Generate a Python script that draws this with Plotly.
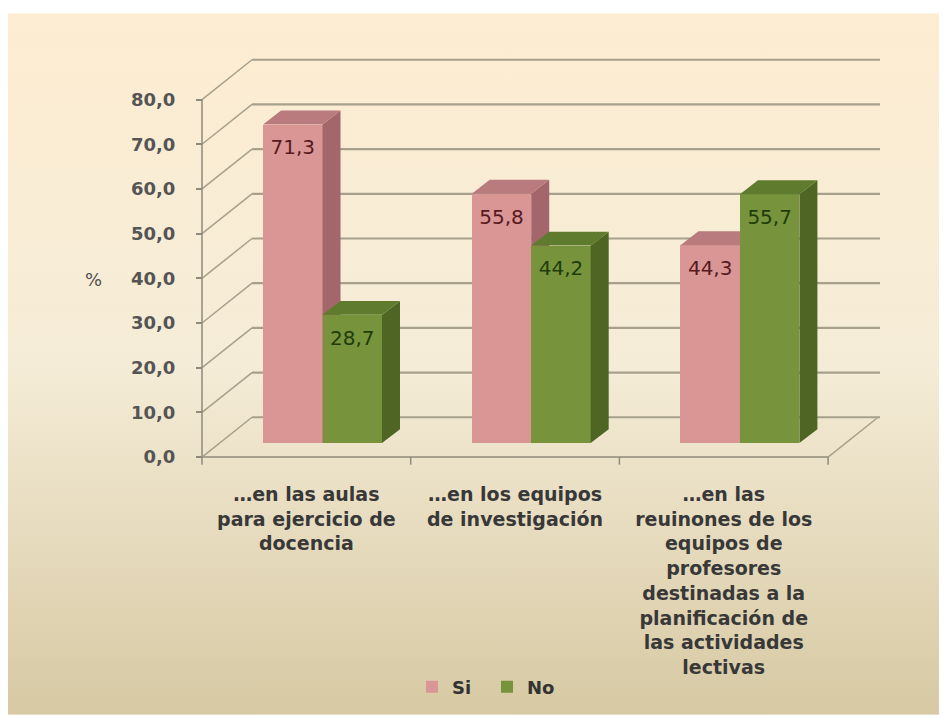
import base64
import plotly.graph_objects as go

# ---------------- data ----------------
categories = [
    "…en las aulas<br>para ejercicio de<br>docencia",
    "…en los equipos<br>de investigación",
    "…en las<br>reuinones de los<br>equipos de<br>profesores<br>destinadas a la<br>planificación de<br>las actividades<br>lectivas",
]
series_names = ["Si", "No"]
si_values = [71.3, 55.8, 44.3]
no_values = [28.7, 44.2, 55.7]
y_ticks = [0, 10, 20, 30, 40, 50, 60, 70, 80]
y_tick_labels = ["0,0", "10,0", "20,0", "30,0", "40,0", "50,0", "60,0", "70,0", "80,0"]
y_title = "%"

# ---------------- geometry (pseudo 3D) ----------------
PAGE_OFF = 8          # default body margin of the html page
FIG_W, FIG_H = 947 - PAGE_OFF, 718 - PAGE_OFF
PX_X = 208.7          # pixels per category unit
PX_Y = 4.49           # pixels per value unit
WALL_DX = 50 / PX_X   # depth of the back wall
WALL_DY = 40 / PX_Y
BAR_BASE = 14 / PX_Y  # bars sit a bit behind the front edge
BAR_DX = 18 / PX_X    # bar depth
BAR_DY = 14 / PX_Y
BAR_W = 0.285
OFFSETS = [0.435, 0.72]
LABEL_DROP = 25 / PX_Y
X_RANGE = [-12 / PX_X, (884 - 202) / PX_X]
Y_RANGE = [-9 / PX_Y, (459 - 52) / PX_Y]
GRID_END = (880 - 202) / PX_X
N_CAT = len(categories)

L = 190 - PAGE_OFF
T = 52 - PAGE_OFF
R = FIG_W - (884 - PAGE_OFF)
B = FIG_H - (468 - PAGE_OFF)
PW, PH = FIG_W - L - R, FIG_H - T - B


def px_to_paper_x(px):
    return (px - PAGE_OFF - L) / PW


def px_to_paper_y(py):
    return (FIG_H - B - (py - PAGE_OFF)) / PH


front_cols = ["#DA9694", "#77933C"]
top_cols = ["#BA7B7E", "#5F7B2D"]
side_cols = ["#A3666A", "#4E6524"]
label_cols = ["#561A1E", "#1F3D0B"]

fig = go.Figure()

all_values = [si_values, no_values]
for s, (name, vals) in enumerate(zip(series_names, all_values)):
    xa = "x" if s == 0 else "x2"
    ya = "y" if s == 0 else "y2"
    centers = [i + OFFSETS[s] for i in range(N_CAT)]
    fig.add_trace(go.Bar(
        x=centers, y=vals, base=BAR_BASE, width=BAR_W, name=name,
        marker=dict(color=front_cols[s], line=dict(width=0)),
        xaxis=xa, yaxis=ya, hoverinfo="skip",
    ))
    sx, sy, tx, ty = [], [], [], []
    for c, v in zip(centers, vals):
        xl, xr = c - BAR_W / 2, c + BAR_W / 2
        b, t = BAR_BASE, BAR_BASE + v
        sx += [xr, xr + BAR_DX, xr + BAR_DX, xr, xr, None]
        sy += [b, b + BAR_DY, t + BAR_DY, t, b, None]
        tx += [xl, xl + BAR_DX, xr + BAR_DX, xr, xl, None]
        ty += [t, t + BAR_DY, t + BAR_DY, t, t, None]
    fig.add_trace(go.Scatter(x=sx, y=sy, mode="lines", fill="toself",
                             fillcolor=side_cols[s], line=dict(width=0, color=side_cols[s]),
                             xaxis=xa, yaxis=ya, showlegend=False, hoverinfo="skip"))
    fig.add_trace(go.Scatter(x=tx, y=ty, mode="lines", fill="toself",
                             fillcolor=top_cols[s], line=dict(width=0, color=top_cols[s]),
                             xaxis=xa, yaxis=ya, showlegend=False, hoverinfo="skip"))
    fig.add_trace(go.Scatter(
        x=centers, y=[BAR_BASE + v - LABEL_DROP for v in vals], mode="text",
        text=[f"{v:.1f}".replace(".", ",") for v in vals],
        textfont=dict(family="DejaVu Sans", size=20, color=label_cols[s]),
        xaxis=xa, yaxis=ya, showlegend=False, hoverinfo="skip"))

# ---------------- walls / grid ----------------
GRID_COL = "#A6A08C"
AXIS_COL = "#8E8A7C"
shapes = []
for v in y_ticks:
    shapes.append(dict(type="line", xref="x", yref="y", x0=WALL_DX, x1=GRID_END,
                       y0=v + WALL_DY, y1=v + WALL_DY, layer="below",
                       line=dict(color=GRID_COL, width=2.2)))
    shapes.append(dict(type="line", xref="x", yref="y", x0=0, x1=WALL_DX,
                       y0=v, y1=v + WALL_DY, layer="below",
                       line=dict(color=GRID_COL, width=1.5)))
# floor
shapes.append(dict(type="line", xref="x", yref="y", x0=0, x1=N_CAT, y0=0, y1=0,
                   layer="below", line=dict(color=GRID_COL, width=2)))
shapes.append(dict(type="line", xref="x", yref="y", x0=N_CAT, x1=N_CAT + WALL_DX,
                   y0=0, y1=WALL_DY, layer="below", line=dict(color=GRID_COL, width=1.5)))
for k in range(N_CAT + 1):
    shapes.append(dict(type="line", xref="x", yref="y", x0=k, x1=k, y0=0, y1=-1.7,
                       layer="below", line=dict(color=AXIS_COL, width=1.5)))
# value axis line
shapes.append(dict(type="line", xref="x", yref="y", x0=0, x1=0, y0=0, y1=y_ticks[-1],
                   layer="below", line=dict(color=AXIS_COL, width=1.5)))
fig.update_layout(shapes=shapes)

# ---------------- background gradient ----------------
svg = ('<svg xmlns="http://www.w3.org/2000/svg" width="100" height="100" viewBox="0 0 100 100" '
       'preserveAspectRatio="none"><defs><linearGradient id="g" x1="0" y1="0" x2="0" y2="1">'
       '<stop offset="0" stop-color="#FDEDD2"/><stop offset="0.5" stop-color="#F5ECD7"/>'
       '<stop offset="1" stop-color="#D6C9A3"/></linearGradient></defs>'
       '<rect width="100" height="100" fill="url(#g)"/></svg>')
src = "data:image/svg+xml;base64," + base64.b64encode(svg.encode()).decode()
bg_left, bg_top, bg_right, bg_bottom = 8, 13, 942, 718
fig.add_layout_image(dict(
    source=src, xref="paper", yref="paper",
    x=px_to_paper_x(bg_left), y=px_to_paper_y(bg_top),
    sizex=(bg_right - bg_left) / PW, sizey=(bg_bottom - bg_top) / PH,
    sizing="stretch", xanchor="left", yanchor="top", layer="below"))

fig.add_annotation(text=y_title, xref="paper", yref="paper",
                   x=px_to_paper_x(93), y=px_to_paper_y(281),
                   xanchor="center", yanchor="middle",
                   showarrow=False, font=dict(family="DejaVu Sans", size=18, color="#4F4F4F"))

fig.update_layout(
    width=FIG_W, height=FIG_H, autosize=False,
    margin=dict(l=L, r=R, t=T, b=B),
    paper_bgcolor="white", plot_bgcolor="rgba(0,0,0,0)",
    barmode="overlay", bargap=0,
    xaxis=dict(range=X_RANGE, tickvals=[i + 0.5 for i in range(N_CAT)], ticktext=categories,
               ticks="", showgrid=False, zeroline=False, showline=False,
               tickfont=dict(family="DejaVu Sans", size=19, color="#383838", weight="bold"),
               ticklabelstandoff=15, fixedrange=True),
    yaxis=dict(range=Y_RANGE, tickvals=y_ticks, ticktext=y_tick_labels,
               ticks="outside", ticklen=6, tickwidth=1.5, tickcolor=AXIS_COL,
               showgrid=False, zeroline=False, showline=False,
               anchor="free", position=12 / PW,
               tickfont=dict(family="DejaVu Sans", size=18, color="#555555", weight="bold"),
               ticklabelstandoff=17, fixedrange=True),
    xaxis2=dict(range=X_RANGE, overlaying="x", visible=False, fixedrange=True),
    yaxis2=dict(range=Y_RANGE, overlaying="y", visible=False, fixedrange=True),
    showlegend=True,
    legend=dict(orientation="h", x=px_to_paper_x(487), xanchor="center",
                y=px_to_paper_y(690), yanchor="middle", bgcolor="rgba(0,0,0,0)",
                font=dict(family="DejaVu Sans", size=18, color="#333333", weight="bold"),
                itemwidth=30, entrywidth=30, entrywidthmode="pixels", traceorder="normal"),
)

fig.write_html("out.html")
